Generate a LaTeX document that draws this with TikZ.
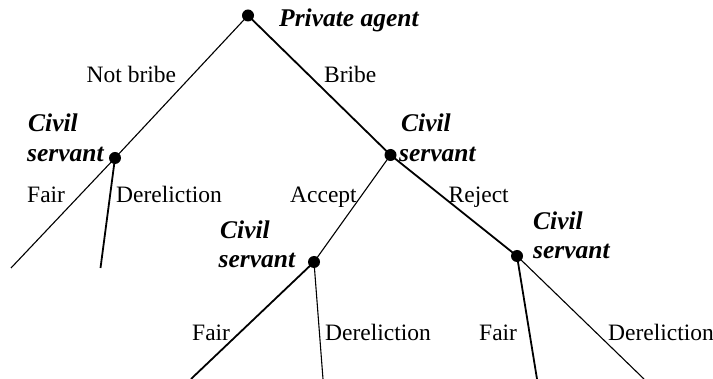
\documentclass[tikz,border=0pt]{standalone}
\usepackage{fontspec}
\setmainfont{Liberation Serif}
\begin{document}
\begin{tikzpicture}[x=1pt,y=-1pt,
  dot/.style={circle,fill=black,inner sep=0pt,minimum size=12pt},
  lbl/.style={anchor=base west,inner sep=0pt,font=\fontsize{23.5}{28}\selectfont},
  who/.style={anchor=base west,inner sep=0pt,font=\fontsize{25.5}{30}\selectfont\bfseries\itshape},
  thinedge/.style={line width=1.1pt},
  thickedge/.style={line width=1.8pt}]
\useasboundingbox (0,0) rectangle (713,379);
% decision nodes
\node[dot] (root) at (248,15.5) {};
\node[dot] (csL) at (115,158) {};
\node[dot] (csR) at (390.5,155) {};
\node[dot] (csM) at (314,262) {};
\node[dot] (csRR) at (517,256) {};
% terminal ends
\coordinate (eLF) at (11,268);
\coordinate (eLD) at (100.5,268);
\coordinate (eMF) at (191,379);
\coordinate (eMD) at (323,379);
\coordinate (eRF) at (537,379);
\coordinate (eRD) at (644,379);
% edges
\draw[thinedge] (root.center) -- (csL.center);
\draw[thickedge] (root.center) -- (csR.center);
\draw[thinedge] (csL.center) -- (eLF);
\draw[thickedge] (csL.center) -- (eLD);
\draw[thinedge] (csR.center) -- (csM.center);
\draw[thickedge] (csR.center) -- (csRR.center);
\draw[thickedge] (csM.center) -- (eMF);
\draw[thinedge] (csM.center) -- (eMD);
\draw[thickedge] (csRR.center) -- (eRF);
\draw[thinedge] (csRR.center) -- (eRD);
% player labels
\node[who] (tPA) at (279,26.7) {Private agent};
\node[who] (tL1) at (28,132) {Civil};
\node[who] (tL2) at (27,162) {servant};
\node[who] (tR1) at (401,132) {Civil};
\node[who] (tR2) at (399,162) {servant};
\node[who] (tM1) at (220,239) {Civil};
\node[who] (tM2) at (218.5,268) {servant};
\node[who] (tRR1) at (533,230) {Civil};
\node[who] (tRR2) at (533,259) {servant};
% action labels
\node[lbl] (aNB) at (86.5,82.7) {Not bribe};
\node[lbl] (aB) at (324,82.7) {Bribe};
\node[lbl] (aLF) at (27,203) {Fair};
\node[lbl] (aLD) at (116,203) {Dereliction};
\node[lbl] (aA) at (290,203) {Accept};
\node[lbl] (aR) at (448.5,203) {Reject};
\node[lbl] (aMF) at (192,341) {Fair};
\node[lbl] (aMD) at (325,341) {Dereliction};
\node[lbl] (aRF) at (479,341) {Fair};
\node[lbl] (aRD) at (608,341) {Dereliction};
\end{tikzpicture}
\end{document}
